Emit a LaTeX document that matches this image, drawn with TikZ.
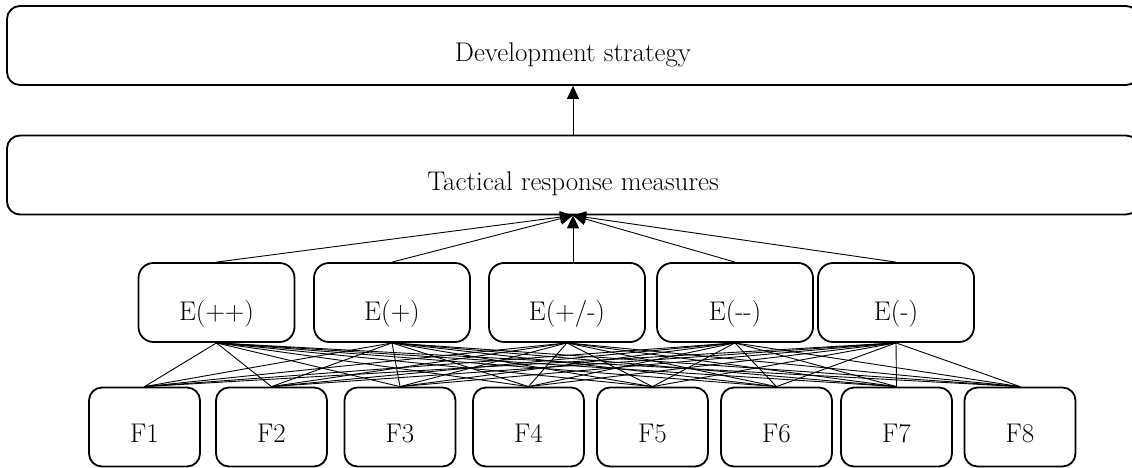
\documentclass[tikz,border=0pt]{standalone}
\usepackage{fontspec}
\usepackage{tikz}
\usetikzlibrary{shapes,arrows.meta}

\begin{document}
\begin{tikzpicture}[x=1pt,y=-1pt,
	box/.style={draw, line width=1.8pt, rounded corners=13pt, inner sep=0pt,
		text height=55pt, text depth=24pt, font=\fontsize{27}{31}\selectfont},
	wide/.style={box, minimum width=1132pt},
	ebox/.style={box, minimum width=156pt, rounded corners=15pt, text height=57pt, text depth=22pt},
	fbox/.style={box, minimum width=111pt},
	link/.style={line width=0.9pt},
	up/.style={line width=0.9pt, -{Triangle[length=13pt,width=12pt]}}]
			\useasboundingbox (0, 0) rectangle (1132, 467);
			% two strategy levels
			\node[wide] (dev) at (573, 45.5) {Development strategy};
			\node[wide] (tact) at (573, 175) {Tactical response measures};
			% evaluation boxes
			\node[ebox] (epp) at (216.5, 302.5) {E(++)};
			\node[ebox] (ep) at (392, 302.5) {E(+)};
			\node[ebox] (epm) at (567, 302.5) {E(+/-)};
			\node[ebox] (emm) at (735, 302.5) {E(-{}-)};
			\node[ebox] (em) at (896, 302.5) {E(-)};
			% factors
			\node[fbox] (f1) at (144.5, 427) {F1};
			\node[fbox] (f2) at (271.5, 427) {F2};
			\node[fbox] (f3) at (400, 427) {F3};
			\node[fbox] (f4) at (528.5, 427) {F4};
			\node[fbox] (f5) at (652.5, 427) {F5};
			\node[fbox] (f6) at (776.5, 427) {F6};
			\node[fbox] (f7) at (896.5, 427) {F7};
			\node[fbox] (f8) at (1020, 427) {F8};
			\foreach \e in {epp, ep, epm, emm, em}
			\foreach \f in {1, ..., 8}
			\draw[link] (\e.south) -- (f\f.north);
			\foreach \e in {epp, ep, emm, em}
			\draw[up] (\e.north) -- (tact.south);
			\draw[up] (epm.north -| tact.south) -- (tact.south);
			\draw[up] (tact.north) -- (dev.south);
		\end{tikzpicture}
\end{document}
